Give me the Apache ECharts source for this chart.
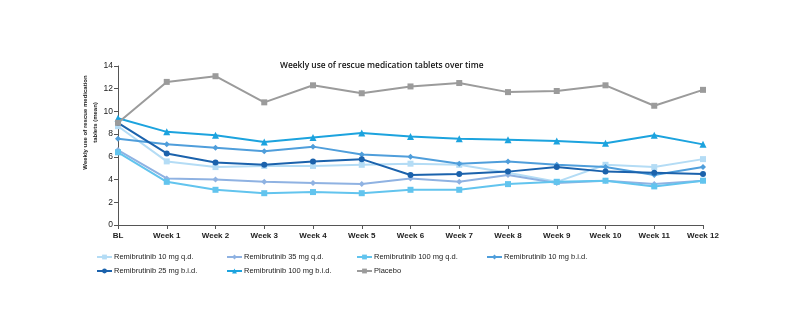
<!DOCTYPE html>
<html>
<head>
<meta charset="utf-8">
<script src="https://cdn.jsdelivr.net/npm/echarts@6/dist/echarts.min.js"></script>
<style>html,body{margin:0;padding:0;background:#fff}#c{width:800px;height:328px}</style>
</head>
<body>
<div id="c"></div>
<script>
const categories = ['BL','Week 1','Week 2','Week 3','Week 4','Week 5','Week 6','Week 7','Week 8','Week 9','Week 10','Week 11','Week 12'];
const yTicks = [0, 2, 4, 6, 8, 10, 12, 14];
const seriesNames = ['Remibrutinib 10 mg q.d.','Remibrutinib 35 mg q.d.','Remibrutinib 100 mg q.d.','Remibrutinib 10 mg b.i.d.','Remibrutinib 25 mg b.i.d.','Remibrutinib 100 mg b.i.d.','Placebo'];
const r10qd   = [8.7, 5.6, 5.1, 5.2, 5.2, 5.3, 5.4, 5.3, 4.6, 3.8, 5.3, 5.1, 5.8];
const r35qd   = [6.6, 4.1, 4.0, 3.8, 3.7, 3.6, 4.1, 3.8, 4.4, 3.7, 3.9, 3.6, 3.9];
const r100qd  = [6.4, 3.8, 3.1, 2.8, 2.9, 2.8, 3.1, 3.1, 3.6, 3.8, 3.9, 3.4, 3.9];
const r10bid  = [7.6, 7.1, 6.8, 6.5, 6.9, 6.2, 6.0, 5.4, 5.6, 5.3, 5.1, 4.4, 5.1];
const r25bid  = [9.0, 6.3, 5.5, 5.3, 5.6, 5.8, 4.4, 4.5, 4.7, 5.1, 4.7, 4.6, 4.5];
const r100bid = [9.4, 8.2, 7.9, 7.3, 7.7, 8.1, 7.8, 7.6, 7.5, 7.4, 7.2, 7.9, 7.1];
const placebo = [9.0, 12.6, 13.1, 10.8, 12.3, 11.6, 12.2, 12.5, 11.7, 11.8, 12.3, 10.5, 11.9];

const allData = [r10qd, r35qd, r100qd, r10bid, r25bid, r100bid, placebo];
const colors = ['#b4dcf5', '#8fb2e2', '#62c4ee', '#4f9edb', '#1b62ac', '#1ca3de', '#9b9b9b'];
const symbols = ['rect', 'diamond', 'rect', 'diamond', 'circle', 'triangle', 'rect'];

const chart = echarts.init(document.getElementById('c'), null, {renderer: 'canvas'});

const legendPos = [
  [96, 253], [226, 253], [356, 253], [486, 253],
  [96, 267], [226, 267], [356, 267]
];

const option = {
  animation: false,
  title: {
    text: 'Weekly use of rescue medication tablets over time',
    left: 275, top: 57,
    textStyle: {fontFamily: 'Open Sans', fontSize: 8.4, fontWeight: 600, color: '#111'}
  },
  legend: seriesNames.map((n, i) => ({
    data: [n],
    left: legendPos[i][0], top: legendPos[i][1],
    itemWidth: 15, itemHeight: 6, itemGap: 0,
    padding: 0,
    textStyle: {fontFamily: 'Liberation Sans', fontSize: 7.5, color: '#222', padding: [0,0,0,-3]}
  })),
  grid: {left: 118, right: 97, top: 66, bottom: 103},
  xAxis: {
    type: 'category',
    data: categories,
    boundaryGap: false,
    axisLine: {lineStyle: {color: '#555', width: 1}},
    axisTick: {show: true, length: 4, alignWithLabel: true, lineStyle: {color: '#555'}},
    axisLabel: {fontFamily: 'Liberation Sans', fontSize: 8, fontWeight: 'bold', color: '#222', margin: 7}
  },
  yAxis: {
    type: 'value',
    min: yTicks[0], max: yTicks[yTicks.length - 1], interval: 2,
    name: 'Weekly use of rescue medication\ntablets (mean)',
    nameLocation: 'middle',
    nameGap: 18,
    nameMoveOverlap: false,
    nameRotate: 90,
    nameTextStyle: {fontFamily: "'Liberation Sans Narrow', 'Liberation Sans'", fontSize: 6, fontWeight: 'bold', color: '#222', lineHeight: 10, padding: [0,0,0,46]},
    axisLine: {show: true, lineStyle: {color: '#555', width: 1}},
    axisTick: {show: true, length: 4, lineStyle: {color: '#555'}},
    splitLine: {show: false},
    axisLabel: {fontFamily: 'Liberation Sans', fontSize: 8.5, color: '#222', margin: 5}
  },
  series: seriesNames.map((n, i) => ({
    name: n,
    type: 'line',
    data: allData[i],
    symbol: symbols[i],
    symbolSize: symbols[i] === 'triangle' ? 7 : 6,
    showAllSymbol: true,
    lineStyle: {color: colors[i], width: 2},
    itemStyle: {color: colors[i]},
    color: colors[i],
    z: 2 + i
  }))
};
chart.setOption(option);
</script>
</body>
</html>
